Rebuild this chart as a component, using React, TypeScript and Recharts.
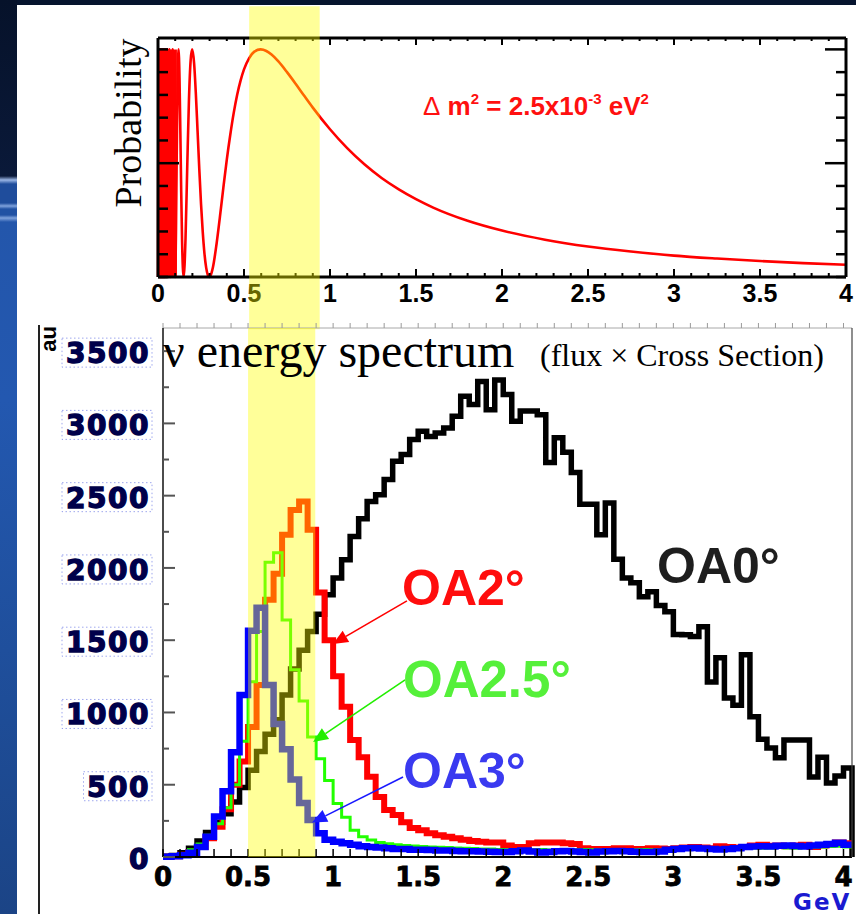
import React from "react";
import { LineChart, Line, XAxis, YAxis, ReferenceArea, ReferenceLine } from "recharts";

// ---- oscillation probability curve (top panel) ----
const probEnergy = [
  0, 0.004, 0.006, 0.008, 0.01, 0.012, 0.014, 0.016, 0.018, 0.02, 0.022, 0.0239, 0.0248, 0.0259,
  0.0271, 0.0284, 0.0298, 0.0314, 0.0331, 0.0351, 0.0373, 0.0398, 0.0426, 0.0459, 0.0497, 0.0542,
  0.0596, 0.0663, 0.0745, 0.0852, 0.0994, 0.1045, 0.109, 0.1193, 0.125, 0.13, 0.135, 0.14, 0.149,
  0.16, 0.17, 0.18, 0.19, 0.1988, 0.21, 0.22, 0.23, 0.24, 0.25, 0.26, 0.27, 0.28, 0.29, 0.298,
  0.31, 0.32, 0.34, 0.36, 0.38, 0.4, 0.42, 0.44, 0.46, 0.48, 0.5, 0.53, 0.56, 0.596, 0.63, 0.66,
  0.7, 0.75, 0.8, 0.85, 0.9, 1.0, 1.1, 1.2, 1.3, 1.4, 1.5, 1.6, 1.8, 2.0, 2.25, 2.5, 2.75, 3.0,
  3.25, 3.5, 3.75, 4.0,
];
const probValue = [
  0, 1, 0, 1, 0, 1, 0, 1, 0, 1, 0, 1, 0, 1,
  0, 1, 0, 1, 0, 1, 0, 1, 0, 1, 0, 1,
  0, 1, 0, 1, 0, 0.199, 0.546, 1, 0.875, 0.635, 0.371, 0.157, 0,
  0.169, 0.484, 0.78, 0.954, 1, 0.938, 0.806, 0.642, 0.475, 0.323, 0.199, 0.104, 0.041, 0.008, 0,
  0.015, 0.045, 0.143, 0.264, 0.393, 0.516, 0.624, 0.72, 0.8, 0.863, 0.912, 0.962, 0.99, 1, 0.993, 0.977,
  0.947, 0.9, 0.849, 0.796, 0.744, 0.649, 0.566, 0.495, 0.435, 0.385, 0.342, 0.305, 0.247, 0.204, 0.164, 0.134, 0.112, 0.094,
  0.081, 0.07, 0.061, 0.054,
];
// below this energy the oscillation is not resolved and prints as a solid block
const unresolvedBelow = 0.11;

// ---- flux x cross section histograms, 0.05 GeV bins from 0 to 4.05 ----
const BIN = 0.05;
const oa0 = [
  5, 10, 30, 60, 110, 170, 240, 300, 380, 480,
  600, 730, 850, 950, 1120, 1300, 1430, 1560, 1680, 1814,
  1930, 2056, 2218, 2340, 2460, 2507, 2611, 2738, 2784, 2888,
  2945, 2910, 2934, 2968, 3049, 3188, 3130, 3290, 3095, 3300,
  3200, 3015, 3085, 3085, 3060, 2730, 2900, 2800, 2660, 2440,
  2440, 2230, 2450, 2060, 1930, 1897, 1800, 1835, 1740, 1697,
  1540, 1537, 1525, 1593, 1210, 1378, 1100, 1050, 1400, 970,
  815, 755, 686, 810, 810, 810, 554, 690, 512, 560,
  616,
];
const oa2 = [
  2, 5, 15, 35, 70, 130, 210, 330, 500, 660,
  900, 1190, 1780, 1960, 2230, 2400, 2460, 2265, 1830, 1500,
  1250, 1040, 810, 690, 555, 415, 325, 290, 240, 200,
  185, 165, 150, 140, 130, 120, 110, 105, 100, 100,
  80, 70, 70, 95, 100, 100, 100, 95, 90, 60,
  55, 55, 55, 60, 60, 55, 55, 60, 58, 55,
  60, 65, 70, 65, 60, 75, 70, 65, 70, 80,
  85, 78, 80, 75, 80, 85, 70, 80, 90, 100,
  95,
];
const oa25 = [
  3, 8, 20, 50, 90, 150, 230, 340, 500, 800,
  1212, 1560, 2040, 2105, 1640, 1295, 1080, 830, 680, 530,
  370, 275, 185, 140, 118, 100, 92, 85, 80, 76,
  72, 70, 68, 65, 62, 60, 58, 56, 55, 52,
  50, 50, 48, 50, 52, 48, 50, 47, 50, 52,
  50, 48, 50, 46, 48, 50, 52, 50, 48, 50,
  55, 55, 58, 56, 55, 52, 55, 58, 60, 62,
  60, 62, 65, 62, 60, 65, 68, 70, 72, 75,
  70,
];
const oa3 = [
  2, 5, 12, 30, 70, 140, 280, 455, 725, 1120,
  1565, 1725, 1190, 920, 745, 536, 373, 256, 165, 120,
  105, 95, 85, 75, 70, 65, 60, 55, 55, 50,
  50, 48, 45, 45, 42, 40, 40, 38, 36, 35,
  35, 40, 45, 38, 32, 35, 40, 42, 38, 35,
  32, 38, 40, 42, 40, 36, 35, 35, 38, 50,
  55, 60, 62, 58, 55, 52, 55, 60, 70, 72,
  75, 72, 78, 80, 76, 72, 80, 85, 90, 98,
  85,
];

const energyTicks = Array.from({ length: 41 }, (_, i) => i / 10);
const probTicks = Array.from({ length: 11 }, (_, i) => i / 10);
const countTicks = Array.from({ length: 15 }, (_, i) => i * 250);

const probRows = probEnergy.map((e, i) => ({ e, p: probValue[i] }));
const histRows = oa0.map((v, i) => ({
  e: Math.round(i * BIN * 100) / 100,
  oa0: v,
  oa2: oa2[i],
  oa25: oa25[i],
  oa3: oa3[i],
}));
// closing edge of the last bin
histRows.push({ e: 4.05, oa0: 0, oa2: oa2[80], oa25: oa25[80], oa3: oa3[80] });

const isHalf = (v: number) => Math.abs(v * 2 - Math.round(v * 2)) < 1e-9;
const SANS = "'Liberation Sans', Arial, Helvetica, sans-serif";
const SERIF = "'Liberation Serif', 'Times New Roman', serif";
const WIDE = "'DejaVu Sans', Verdana, sans-serif";

// top panel ticks (ROOT style, inside the frame)
const probBottomTick = ({ x, y, payload }: any) => {
  const major = isHalf(payload.value);
  return (
    <g>
      <line x1={x} y1={y} x2={x} y2={y - (major ? 8 : 4)} stroke="#000" strokeWidth={2} />
      {major && (
        <text x={x} y={y + 25} textAnchor="middle" fontFamily={SANS} fontWeight="bold" fontSize={25} fill="#000">
          {String(payload.value)}
        </text>
      )}
    </g>
  );
};
const probTopTick = ({ x, y, payload }: any) => (
  <line x1={x} y1={y} x2={x} y2={y + (isHalf(payload.value) ? 7 : 3)} stroke="#000" strokeWidth={2} />
);
const probLeftTick = ({ x, y, payload }: any) => {
  const major = Math.abs(payload.value - 0.5) < 1e-9;
  return <line x1={x} y1={y} x2={x + (major ? 21 : 10)} y2={y} stroke="#000" strokeWidth={2.5} />;
};
const probRightTick = ({ x, y, payload }: any) => {
  const major = Math.abs(payload.value - 0.5) < 1e-9 || Math.abs(payload.value - 1) < 1e-9;
  return <line x1={x} y1={y} x2={x - (major ? 21 : 10)} y2={y} stroke="#000" strokeWidth={2.5} />;
};

// bottom panel ticks
const histBottomTick = ({ x, y, payload }: any) => {
  const major = isHalf(payload.value);
  return (
    <g>
      <line x1={x} y1={y} x2={x} y2={y - 8} stroke="#000" strokeWidth={1.5} />
      {major && (
        <text x={x} y={y + 29} textAnchor="middle" fontFamily={WIDE} fontWeight="bold" fontSize={26}
          fill="#000" stroke="#000" strokeWidth={0.8}>
          {String(payload.value)}
        </text>
      )}
    </g>
  );
};
const histTopTick = ({ x, y }: any) => (
  <line x1={x} y1={y} x2={x} y2={y - 5} stroke="#9a9a9a" strokeWidth={1} />
);
const histLeftTick = ({ x, y, payload }: any) => {
  const v = payload.value as number;
  const major = v % 500 === 0;
  const label = String(v);
  const w = label.length * 21.5;
  const rx = x - 13;
  return (
    <g>
      <line x1={x} y1={y} x2={x + (major ? 12 : 6)} y2={y} stroke="#555" strokeWidth={2} />
      {major && v > 0 && (
        <rect x={rx - w - 2} y={y - 13} width={w + 4} height={29} fill="none" stroke="#5060e0"
          strokeOpacity={0.55} strokeWidth={1} strokeDasharray="1.5 2.5" />
      )}
      {major && (
        <text x={rx} y={y + 12} textAnchor="end" fontFamily={WIDE} fontWeight="bold" fontSize={28} letterSpacing={1.5}
          fill="#00004a" stroke="#00004a" strokeWidth={1.3}>
          {label}
        </text>
      )}
    </g>
  );
};

const arrowShape = (color: string) => (props: any) => {
  const { x1, y1, x2, y2 } = props;
  const ang = Math.atan2(y2 - y1, x2 - x1);
  const L = 15;
  const W = 6.5;
  const bx = x2 - L * Math.cos(ang);
  const by = y2 - L * Math.sin(ang);
  const s = Math.sin(ang);
  const c = Math.cos(ang);
  const pts = `${x2},${y2} ${bx + W * s},${by - W * c} ${bx - W * s},${by + W * c}`;
  return (
    <g>
      <line x1={x1} y1={y1} x2={bx} y2={by} stroke={color} strokeWidth={1.6} />
      <polygon points={pts} fill={color} />
    </g>
  );
};

const ProbabilityPanel = () => (
  <LineChart width={856} height={330} data={probRows} margin={{ top: 37, right: 9, bottom: 52, left: 157 }}>
    <XAxis xAxisId="b" dataKey="e" type="number" domain={[0, 4]} ticks={energyTicks} interval={0} height={1}
      axisLine={{ stroke: "#000", strokeWidth: 3 }} tickLine={false} tickSize={0} tickMargin={0} tick={probBottomTick} />
    <XAxis xAxisId="t" dataKey="e" orientation="top" type="number" domain={[0, 4]} allowDataOverflow ticks={energyTicks} interval={0} height={1}
      axisLine={{ stroke: "#000", strokeWidth: 3 }} tickLine={false} tickSize={0} tickMargin={0} tick={probTopTick} />
    <YAxis yAxisId="l" type="number" domain={[0, 1.05]} ticks={probTicks} interval={0} width={1}
      axisLine={{ stroke: "#000", strokeWidth: 3 }} tickLine={false} tickSize={0} tickMargin={0} tick={probLeftTick} />
    <YAxis yAxisId="r" orientation="right" type="number" domain={[0, 1.05]} allowDataOverflow ticks={probTicks} interval={0} width={1}
      axisLine={{ stroke: "#000", strokeWidth: 3 }} tickLine={false} tickSize={0} tickMargin={0} tick={probRightTick} />
    <ReferenceArea xAxisId="b" yAxisId="l" x1={0} x2={unresolvedBelow} y1={0} y2={1}
      fill="#ff0000" fillOpacity={1} stroke="none" />
    <Line xAxisId="b" yAxisId="l" dataKey="p" type="monotone" stroke="#ff0000" strokeWidth={2.6}
      dot={false} activeDot={false} isAnimationActive={false} />
    <ReferenceArea xAxisId="b" yAxisId="l" x1={0.53} x2={0.94} y1={-0.23} y2={1.19} ifOverflow="visible"
      fill="#ffff00" fillOpacity={0.4} stroke="none" zIndex={2500} />
  </LineChart>
);

const SpectrumPanel = () => (
  <LineChart width={856} height={594} data={histRows} margin={{ top: 7, right: 3, bottom: 56, left: 162 }}>
    <XAxis xAxisId="b" dataKey="e" type="number" domain={[0, 4.05]} ticks={energyTicks} interval={0} height={1}
      axisLine={{ stroke: "#000", strokeWidth: 2 }} tickLine={false} tickSize={0} tickMargin={0} tick={histBottomTick} />
    <XAxis xAxisId="t" dataKey="e" orientation="top" type="number" domain={[0, 4.05]} allowDataOverflow ticks={energyTicks} interval={0} height={1}
      axisLine={{ stroke: "#a8a8a8", strokeWidth: 1 }} tickLine={false} tickSize={0} tickMargin={0} tick={histTopTick} />
    <YAxis yAxisId="l" type="number" domain={[0, 3660]} ticks={countTicks} interval={0} width={1}
      axisLine={{ stroke: "#111", strokeWidth: 1.5 }} tickLine={false} tickSize={0} tickMargin={0} tick={histLeftTick} />
    <YAxis yAxisId="r" orientation="right" type="number" domain={[0, 3660]} allowDataOverflow width={1}
      axisLine={{ stroke: "#444", strokeWidth: 1.2 }} tickLine={false} tick={false} />
    <Line xAxisId="b" yAxisId="l" dataKey="oa0" type="stepAfter" stroke="#000" strokeWidth={5.5} strokeLinejoin="miter"
      dot={false} activeDot={false} isAnimationActive={false} />
    <Line xAxisId="b" yAxisId="l" dataKey="oa2" type="stepAfter" stroke="#ff0000" strokeWidth={6} strokeLinejoin="miter"
      dot={false} activeDot={false} isAnimationActive={false} />
    <Line xAxisId="b" yAxisId="l" dataKey="oa25" type="stepAfter" stroke="#22ff00" strokeWidth={3} strokeLinejoin="miter"
      dot={false} activeDot={false} isAnimationActive={false} />
    <Line xAxisId="b" yAxisId="l" dataKey="oa3" type="stepAfter" stroke="#0000ff" strokeWidth={6.5} strokeLinejoin="miter"
      dot={false} activeDot={false} isAnimationActive={false} />
    <ReferenceArea xAxisId="b" yAxisId="l" x1={0.5} x2={0.895} y1={0} y2={3660} ifOverflow="visible"
      fill="#ffff00" fillOpacity={0.4} stroke="none" zIndex={2500} />
    <ReferenceLine xAxisId="b" yAxisId="l" ifOverflow="visible" zIndex={2600}
      segment={[{ x: 1.434, y: 1772 }, { x: 0.999, y: 1474 }]} shape={arrowShape("#ff0000")} />
    <ReferenceLine xAxisId="b" yAxisId="l" ifOverflow="visible" zIndex={2600}
      segment={[{ x: 1.423, y: 1225 }, { x: 0.882, y: 796 }]} shape={arrowShape("#22ee00")} />
    <ReferenceLine xAxisId="b" yAxisId="l" ifOverflow="visible" zIndex={2600}
      segment={[{ x: 1.411, y: 554 }, { x: 0.876, y: 238 }]} shape={arrowShape("#1a1aff")} />
  </LineChart>
);

const stripe =
  "linear-gradient(180deg, #06122a 0px, #0a1939 176px, #9ab6e6 180px, #1f4d9c 184px, #1f4d9c 203px, #7fa2dc 206px, #2152a4 209px, #2152a4 215px, #7fa2dc 218px, #2356ab 222px, #2358b0 400px, #1f4f9c 650px, #1b4486 914px)";

export default function App() {
  return (
    <div style={{ position: "fixed", left: 0, top: 0, width: 856, height: 914, overflow: "hidden", background: "#fff" }}>
      <div style={{ position: "absolute", left: 0, top: 0, width: 856, height: 5, background: "#06142e" }} />
      <div style={{ position: "absolute", left: 0, top: 0, width: 17, height: 914, background: stripe }} />
      <div style={{ position: "absolute", left: 0, top: 0 }}>
        <ProbabilityPanel />
      </div>
      <div style={{ position: "absolute", left: 0, top: 320 }}>
        <SpectrumPanel />
      </div>
      <svg width={856} height={914} style={{ position: "absolute", left: 0, top: 0, pointerEvents: "none" }}>
        <text transform="translate(141,123) rotate(-90)" textAnchor="middle" fontFamily={SERIF} fontSize={38} fill="#000">
          Probability
        </text>
        <text x={423} y={115} fontFamily={SANS} fontWeight="bold" fontSize={26} fill="#ff1010">
          <tspan fontWeight="normal">Δ</tspan>
          <tspan> m</tspan>
          <tspan dy={-11} fontSize={15}>2</tspan>
          <tspan dy={11}> = 2.5x10</tspan>
          <tspan dy={-11} fontSize={15}>-3</tspan>
          <tspan dy={11}> eV</tspan>
          <tspan dy={-11} fontSize={15}>2</tspan>
        </text>
        <line x1={39} y1={325} x2={39} y2={914} stroke="#222" strokeWidth={2} />
        <text transform="translate(56,326) rotate(-90)" textAnchor="end" fontFamily={SANS} fontWeight="bold" fontSize={22} fill="#000">
          au
        </text>
        <text x={163} y={367} fontFamily={SERIF} fontSize={48} fill="#000">
          ν energy spectrum
        </text>
        <text x={540} y={366} fontFamily={SERIF} fontSize={32} fill="#000">
          (flux × Cross Section)
        </text>
        <text x={657} y={583} fontFamily={SANS} fontWeight="bold" fontSize={50} fill="#1e1e1e">OA0°</text>
        <text x={402} y={605} fontFamily={SANS} fontWeight="bold" fontSize={50} fill="#ff0d0d">OA2°</text>
        <text x={403} y={697} fontFamily={SANS} fontWeight="bold" fontSize={51} fill="#55f03a">OA2.5°</text>
        <text x={403} y={788} fontFamily={SANS} fontWeight="bold" fontSize={50} fill="#3a3af0">OA3°</text>
        <text x={793} y={910} fontFamily={WIDE} fontWeight="bold" fontSize={23} letterSpacing={2} fill="#1a1ad0">GeV</text>
      </svg>
    </div>
  );
}
